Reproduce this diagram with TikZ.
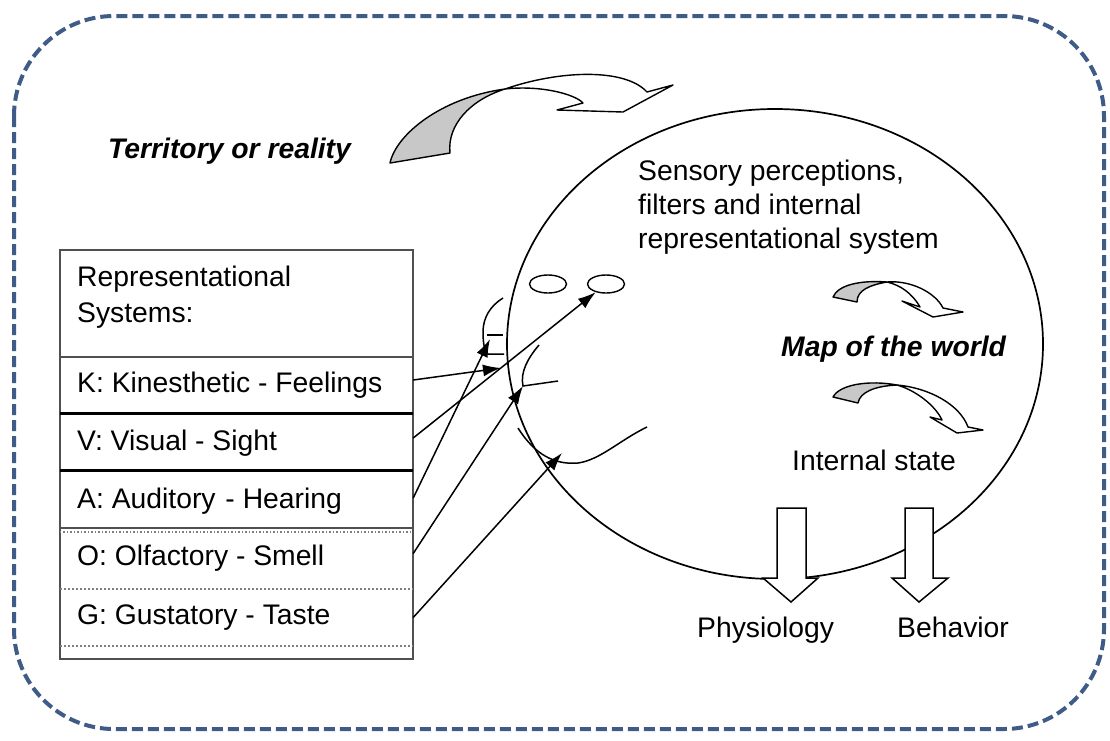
\documentclass[tikz,border=0pt]{standalone}
\usepackage{fontspec}
\setmainfont{Liberation Sans}
\usetikzlibrary{arrows.meta,shapes.geometric}
\definecolor{bordercol}{RGB}{62,92,135}
\definecolor{ribbongray}{RGB}{200,200,200}
\definecolor{tablegray}{RGB}{80,80,80}
\begin{document}
\begin{tikzpicture}[x=1pt,y=-1pt,
  txt/.style={inner sep=0pt, font=\fontsize{28.3}{34}\selectfont},
  bitxt/.style={inner sep=0pt, font=\fontsize{28.3}{34}\selectfont\bfseries\itshape},
  row/.style={draw=none, minimum width=353pt, inner sep=0pt},
  conn/.style={line width=1.5pt, -{Latex[length=18pt,width=12pt]}},
  organ/.style={line width=1.5pt},
  ribbon/.style={draw=black, line width=1.4pt, line join=round},
  blockarrow/.style={draw=black, fill=white, line width=1.5pt, line join=miter},
  frame/.style={draw=bordercol, line width=4pt, dash pattern=on 11pt off 5pt, rounded corners=100pt}]
\useasboundingbox (0,0) rectangle (1110,740);

% dashed outer frame
\draw[frame] (14,16) rectangle (1104,729);

% big ellipse (mind)
\node[draw, ellipse, minimum width=536pt, minimum height=470pt, line width=1.7pt] (mind) at (775,344) {};

% big curved arrow (territory -> mind)
\filldraw[ribbon, fill=ribbongray] (390,163) .. controls (396,135) and (440,98) .. (505,89)
   .. controls (470,100) and (447,125) .. (450,153) -- cycle;
\filldraw[ribbon, fill=white] (505,89) .. controls (560,70) and (625,68) .. (647,92)
   -- (673,85) -- (623,112) -- (557,110) -- (583,103)
   .. controls (575,94) and (540,85) .. (505,89) -- cycle;

% small curved arrow 1
\filldraw[ribbon, fill=ribbongray] (833,297) .. controls (838,285) and (860,280) .. (887,282)
   .. controls (870,285) and (857,290) .. (857,302) -- cycle;
\filldraw[ribbon, fill=white] (887,282) .. controls (910,280) and (935,292) .. (943,308)
   -- (963,312) -- (933,317) -- (902,301) -- (920,307)
   .. controls (912,293) and (900,285) .. (887,282) -- cycle;

% small curved arrow 2
\filldraw[ribbon, fill=ribbongray] (833,397) .. controls (840,384) and (870,380) .. (897,385)
   .. controls (875,386) and (860,392) .. (858,403) -- cycle;
\filldraw[ribbon, fill=white] (897,385) .. controls (930,388) and (960,405) .. (968,427)
   -- (983,430) -- (957,433) -- (930,417) -- (942,420)
   .. controls (935,405) and (915,390) .. (897,385) -- cycle;

% texts
\node[bitxt, anchor=base west] (territory) at (108,158) {Territory or reality};
\node[txt, anchor=north west, align=left] (sensory) at (638,160)
  {Sensory perceptions,\\filters and internal\\representational system};
\node[bitxt, anchor=base west] (map) at (781,356) {Map of the world};
\node[txt, anchor=base west] (internal) at (792,470) {Internal state};
\node[txt, anchor=base west] (physio) at (697,637) {Physiology};
\node[txt, anchor=base west] (behav) at (897,637) {Behavior};

% block arrows
\draw[blockarrow] (777,508) -- (806,508) -- (806,578) -- (818,578) -- (791,602)
   -- (763,578) -- (777,578) -- cycle;
\draw[blockarrow] (905,508) -- (933,508) -- (933,578) -- (948,578) -- (919,602)
   -- (892,578) -- (905,578) -- cycle;

% small ellipses (eyes)
\node[draw, ellipse, minimum width=37pt, minimum height=18pt, inner sep=0pt, line width=1.4pt] (eye1) at (548,284) {};
\node[draw, ellipse, minimum width=37pt, minimum height=18pt, inner sep=0pt, line width=1.4pt] (eye2) at (606,284) {};

% ear
\draw[organ] (503,298) .. controls (490,306) and (483,318) .. (483,332)
   .. controls (483,345) and (485,352) .. (488,354) -- (504,354);
\draw[organ] (487,335) -- (503,335);
\coordinate (earpt) at (490,339);
% skin point
\coordinate (skinpt) at (501,368);
% nose
\draw[organ] (539,345) .. controls (528,358) and (520,372) .. (523,386) -- (558,381);
\coordinate (nosept) at (523,386);
% mouth
\draw[organ] (518,428) .. controls (535,455) and (555,465) .. (578,463)
   .. controls (600,460) and (620,440) .. (647,427);
\coordinate (mouthpt) at (562,453);

% table
\node[row, minimum height=107pt] (rowH) at (236.5,303.5) {};
\node[row, minimum height=56pt] (rowK) at (236.5,385) {};
\node[row, minimum height=57pt] (rowV) at (236.5,441.5) {};
\node[row, minimum height=58pt] (rowA) at (236.5,499) {};
\node[row, minimum height=61pt] (rowO) at (236.5,558.5) {};
\node[row, minimum height=57pt] (rowG) at (236.5,617.5) {};
\draw[tablegray, line width=1.8pt] (60,250) rectangle (413,659);
\draw[tablegray, line width=2.2pt] (rowH.south west) -- (rowH.south east);
\draw[black, line width=3pt] (rowK.south west) -- (rowK.south east);
\draw[black, line width=3pt] (rowV.south west) -- (rowV.south east);
\draw[tablegray, line width=1.8pt] (rowA.south west) -- (rowA.south east);
\draw[gray, line width=1.5pt, dotted] ([yshift=-4pt]rowA.south west) -- ([yshift=-4pt]rowA.south east);
\draw[gray, line width=2pt, dotted] (rowO.south west) -- (rowO.south east);
\draw[gray, line width=2pt, dotted] (rowG.south west) -- (rowG.south east);

\node[txt, anchor=north west, align=left, font=\fontsize{28.3}{36}\selectfont] (hdr) at (77,266) {Representational\\Systems:};
\node[txt, anchor=base west] (tK) at (77,392) {K: Kinesthetic - Feelings};
\node[txt, anchor=base west] (tV) at (77,450) {V: Visual - Sight};
\node[txt, anchor=base west] (tA) at (77,508) {A: Auditory\kern2pt\ - Hearing};
\node[txt, anchor=base west] (tO) at (77,565) {O: Olfactory - Smell};
\node[txt, anchor=base west] (tG) at (77,624) {G: Gustatory - Taste};

% connectors
\draw[conn] ([yshift=5pt]rowK.east) -- (skinpt);
\draw[conn] ([yshift=3.5pt]rowV.east) -- (eye2);
\draw[conn] ([yshift=1pt]rowA.east) -- (earpt);
\draw[conn] ([yshift=5pt]rowO.east) -- (nosept);
\draw[conn] (rowG.east) -- (mouthpt);
\end{tikzpicture}
\end{document}
